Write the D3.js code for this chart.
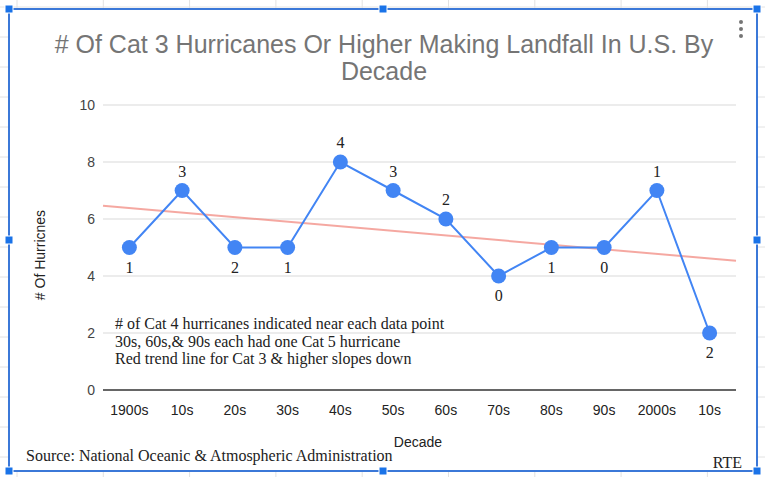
<!DOCTYPE html>
<html>
<head>
<meta charset="utf-8">
<script src="https://cdn.jsdelivr.net/npm/d3@7"></script>
<style>
  body { margin: 0; background: #fff; }
  svg { display: block; }
</style>
</head>
<body>
<svg width="765" height="477"></svg>
<script>
'use strict';

const decades = ["1900s", "10s", "20s", "30s", "40s", "50s", "60s", "70s", "80s", "90s", "2000s", "10s"];
const cat3Counts = [5, 7, 5, 5, 8, 7, 6, 4, 5, 5, 7, 2];
const cat4Counts = [1, 3, 2, 1, 4, 3, 2, 0, 1, 0, 1, 2];
const labelAbove = [false, true, false, false, true, true, true, false, false, false, true, false];
const yTicks = [0, 2, 4, 6, 8, 10];
const notes = [
    "# of Cat 4 hurricanes indicated near each data point",
    "30s, 60s,& 90s each had one Cat 5 hurricane",
    "Red trend line for Cat 3 & higher slopes down"
];

const svg = d3.select("svg");
const plotLeft = 103, plotRight = 736, plotTop = 105, plotBottom = 390;

// spreadsheet grid behind the chart box
const sheet = svg.append("g").attr("stroke", "#e2e2e2").attr("stroke-width", 1);
for (let gx = 17; gx < 765; gx += 86.3) {
    sheet.append("line").attr("x1", gx).attr("x2", gx).attr("y1", 0).attr("y2", 477);
}
for (let gy = 7; gy < 477; gy += 30) {
    sheet.append("line").attr("x1", 0).attr("x2", 765).attr("y1", gy).attr("y2", gy);
}
svg.append("rect").attr("x", 9).attr("y", 9).attr("width", 748).attr("height", 462).attr("fill", "#fff");

// index-based x so duplicate "10s" stays separate
const x = d3.scalePoint().domain(d3.range(decades.length)).range([plotLeft, plotRight]).padding(0.5);
const y = d3.scaleLinear().domain([0, 10]).range([plotBottom, plotTop]);

// gridlines
svg.append("g").selectAll("line").data(yTicks.filter(d => d > 0)).enter().append("line")
    .attr("x1", plotLeft).attr("x2", plotRight)
    .attr("y1", d => y(d)).attr("y2", d => y(d))
    .attr("stroke", "#d9d9d9").attr("stroke-width", 1);

// baseline
svg.append("line").attr("x1", plotLeft).attr("x2", plotRight).attr("y1", y(0)).attr("y2", y(0))
    .attr("stroke", "#333").attr("stroke-width", 1.3);

// y tick labels
svg.append("g").selectAll("text").data(yTicks).enter().append("text")
    .attr("x", 95).attr("y", d => y(d)).attr("dy", "0.35em")
    .attr("text-anchor", "end")
    .attr("font-family", "Liberation Sans, Arial, sans-serif").attr("font-size", 14)
    .attr("fill", "#444").text(d => d);

// x tick labels
svg.append("g").selectAll("text").data(decades).enter().append("text")
    .attr("x", (d, i) => x(i)).attr("y", 415)
    .attr("text-anchor", "middle")
    .attr("font-family", "Liberation Sans, Arial, sans-serif").attr("font-size", 14)
    .attr("fill", "#222").text(d => d);

// trend line (least squares on the cat 3 counts)
const n = cat3Counts.length;
const mx = d3.mean(d3.range(n)), my = d3.mean(cat3Counts);
const slope = d3.sum(cat3Counts, (v, i) => (i - mx) * (v - my)) / d3.sum(d3.range(n), i => (i - mx) * (i - mx));
const trendAt = t => my + slope * (t - mx);
svg.append("line")
    .attr("x1", plotLeft).attr("y1", y(trendAt(-0.5)))
    .attr("x2", plotRight).attr("y2", y(trendAt(n - 0.5)))
    .attr("stroke", "#f28b82").attr("stroke-opacity", 0.75).attr("stroke-width", 2);

// series line and points
const line = d3.line().x((d, i) => x(i)).y(d => y(d));
svg.append("path").datum(cat3Counts).attr("d", line)
    .attr("fill", "none").attr("stroke", "#4285f4").attr("stroke-width", 2);
svg.append("g").selectAll("circle").data(cat3Counts).enter().append("circle")
    .attr("cx", (d, i) => x(i)).attr("cy", d => y(d)).attr("r", 7.5)
    .attr("fill", "#4285f4");

// cat 4 labels
svg.append("g").selectAll("text").data(cat4Counts).enter().append("text")
    .attr("x", (d, i) => x(i))
    .attr("y", (d, i) => labelAbove[i] ? y(cat3Counts[i]) - 14 : y(cat3Counts[i]) + 25)
    .attr("text-anchor", "middle")
    .attr("font-family", "Liberation Serif, Times New Roman, serif").attr("font-size", 16)
    .attr("fill", "#222").text(d => d);

// notes
svg.append("g").selectAll("text").data(notes).enter().append("text")
    .attr("x", 115).attr("y", (d, i) => 329 + i * 17.5)
    .attr("font-family", "Liberation Serif, Times New Roman, serif").attr("font-size", 16)
    .attr("fill", "#222").text(d => d);

// title
const title = svg.append("text").attr("text-anchor", "middle")
    .attr("font-family", "Liberation Sans, Arial, sans-serif").attr("font-size", 25)
    .attr("fill", "#757575");
title.append("tspan").attr("x", 384).attr("y", 53).text("# Of Cat 3 Hurricanes Or Higher Making Landfall In U.S. By");
title.append("tspan").attr("x", 384).attr("y", 80).text("Decade");

// axis titles
svg.append("text").attr("transform", "translate(45,255) rotate(-90)")
    .attr("text-anchor", "middle")
    .attr("font-family", "Liberation Sans, Arial, sans-serif").attr("font-size", 14)
    .attr("fill", "#222").text("# Of Hurricnes");
svg.append("text").attr("x", 418).attr("y", 447).attr("text-anchor", "middle")
    .attr("font-family", "Liberation Sans, Arial, sans-serif").attr("font-size", 14)
    .attr("fill", "#222").text("Decade");

// source and initials
svg.append("text").attr("x", 26).attr("y", 461)
    .attr("font-family", "Liberation Serif, Times New Roman, serif").attr("font-size", 16)
    .attr("fill", "#222").text("Source: National Oceanic & Atmospheric Administration");
svg.append("text").attr("x", 742).attr("y", 468).attr("text-anchor", "end")
    .attr("font-family", "Liberation Serif, Times New Roman, serif").attr("font-size", 16)
    .attr("fill", "#222").text("RTE");

// menu dots
svg.append("g").selectAll("circle").data([22, 29, 36]).enter().append("circle")
    .attr("cx", 741).attr("cy", d => d).attr("r", 2).attr("fill", "#757575");

// selection frame and handles
svg.append("rect").attr("x", 9).attr("y", 9).attr("width", 748).attr("height", 462)
    .attr("fill", "none").attr("stroke", "#3b78d8").attr("stroke-width", 2);
const handles = [[9, 9], [383, 9], [757, 9], [9, 240], [757, 240], [9, 471], [383, 471], [757, 471]];
svg.append("g").selectAll("rect").data(handles).enter().append("rect")
    .attr("x", d => d[0] - 4).attr("y", d => d[1] - 4).attr("width", 8).attr("height", 8)
    .attr("fill", "#1a73e8").attr("stroke", "#fff").attr("stroke-width", 1);
</script>
</body>
</html>
